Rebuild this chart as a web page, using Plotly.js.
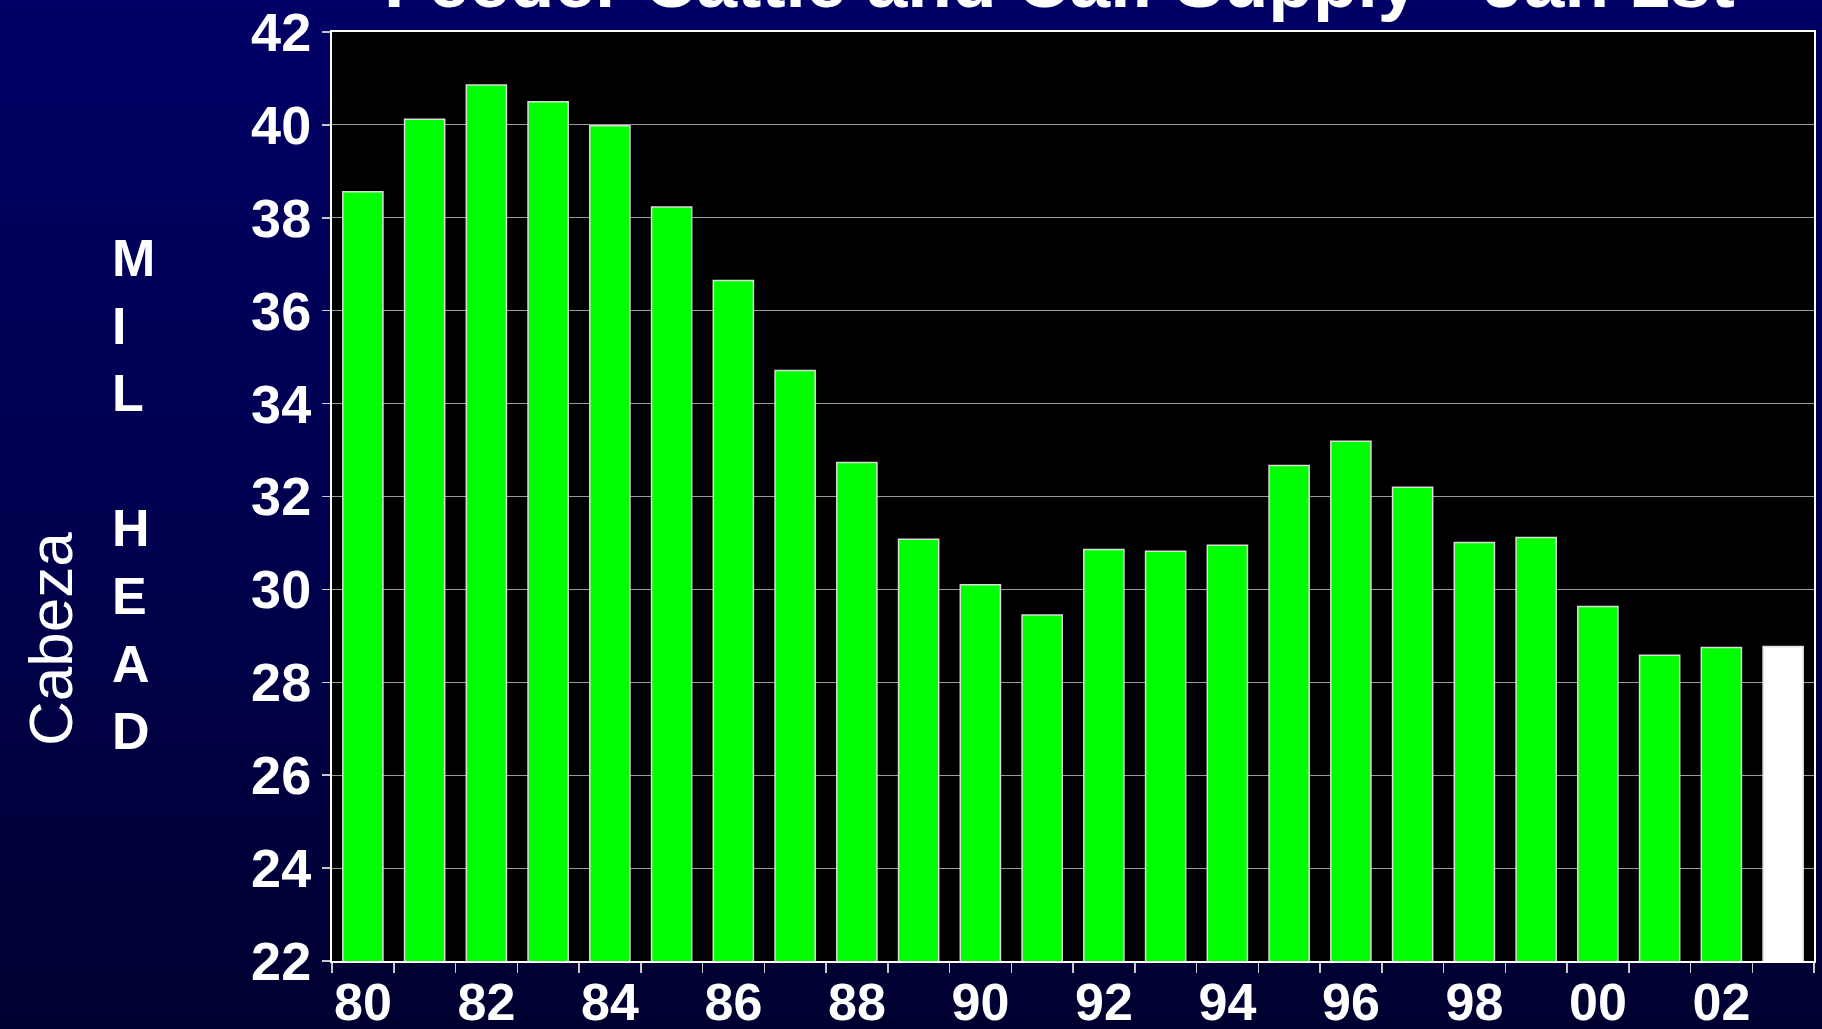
<!DOCTYPE html>
<html>
<head>
<meta charset="utf-8">
<script src="https://cdn.plot.ly/plotly-3.0.1.min.js"></script>
<style>
  html, body { margin: 0; padding: 0; width: 1822px; height: 1029px; overflow: hidden; }
  body { background: linear-gradient(to bottom, #000066 0%, #00004d 55%, #000030 100%); }
  #chart { width: 1822px; height: 1029px; }
</style>
</head>
<body>
<div id="chart"></div>
<script>
// ---- data ----
const years = ["80","81","82","83","84","85","86","87","88","89","90","91",
               "92","93","94","95","96","97","98","99","00","01","02","03"];
const supply = [38.56, 40.12, 40.86, 40.50, 39.98, 38.23, 36.65, 34.71, 32.73, 31.08, 30.10, 29.45,
                30.86, 30.82, 30.95, 32.67, 33.19, 32.20, 31.01, 31.12, 29.63, 28.58, 28.75, 28.77];
const xTickLabels = ["80","","82","","84","","86","","88","","90","",
                     "92","","94","","96","","98","","00","","02",""];
const yTickVals = [22, 24, 26, 28, 30, 32, 34, 36, 38, 40, 42];
const titleText = "Feeder Cattle and Calf Supply - Jan 1st";
const unitLabel = "M<br>I<br>L<br><br>H<br>E<br>A<br>D";
const spanishLabel = "Cabeza";
const projectedYear = "03";

const FONT = "'Liberation Sans', Arial, Helvetica, sans-serif";
const barColors = years.map(y => y === projectedYear ? "#ffffff" : "#00ff00");

const trace = {
  type: "bar",
  x: years,
  y: supply,
  marker: { color: barColors, line: { color: "#dcdcdc", width: 1.5 } },
  hoverinfo: "x+y"
};

const layout = {
  width: 1822, height: 1029, autosize: false,
  margin: { l: 332, r: 8, t: 32, b: 68, pad: 0 },
  paper_bgcolor: "rgba(0,0,0,0)",
  plot_bgcolor: "#000000",
  bargap: 0.35,
  showlegend: false,
  font: { family: FONT, color: "#ffffff" },
  xaxis: {
    type: "category",
    tickmode: "array",
    tickvals: years,
    ticktext: xTickLabels,
    tickson: "boundaries",
    tickangle: 0,
    ticklabelstandoff: -5,
    ticks: "outside", ticklen: 10, tickwidth: 1.5, tickcolor: "#c8c8c8",
    tickfont: { family: FONT, size: 52, color: "#ffffff", weight: "bold" },
    showgrid: false, zeroline: false,
    showline: true, linecolor: "#ffffff", linewidth: 2, mirror: true,
    fixedrange: true
  },
  yaxis: {
    range: [22, 42],
    tickmode: "array",
    tickvals: yTickVals,
    ticks: "outside", ticklen: 8, tickwidth: 1.5, tickcolor: "#c8c8c8",
    tickfont: { family: FONT, size: 54, color: "#ffffff", weight: "bold" },
    showgrid: true, gridcolor: "#9a9a9a", gridwidth: 1,
    zeroline: false,
    showline: true, linecolor: "#ffffff", linewidth: 2, mirror: true,
    fixedrange: true
  },
  annotations: [
    {
      text: "<b>" + titleText + "</b>",
      xref: "paper", yref: "paper",
      x: 0.4912, y: 1.0545, xanchor: "center", yanchor: "middle",
      showarrow: false,
      font: { family: FONT, size: 73, color: "#ffffff" }
    },
    {
      text: "<b>" + unitLabel + "</b>",
      xref: "paper", yref: "paper",
      x: -0.1498, y: 0.502, xanchor: "left", yanchor: "middle", align: "left",
      showarrow: false,
      font: { family: FONT, size: 52, color: "#ffffff" }
    },
    {
      text: spanishLabel,
      xref: "paper", yref: "paper",
      x: -0.1903, y: 0.3466, xanchor: "center", yanchor: "middle",
      textangle: -90,
      showarrow: false,
      font: { family: FONT, size: 62, color: "#ffffff" }
    }
  ]
};

Plotly.newPlot("chart", [trace], layout, { displayModeBar: false, staticPlot: true });
</script>
</body>
</html>
